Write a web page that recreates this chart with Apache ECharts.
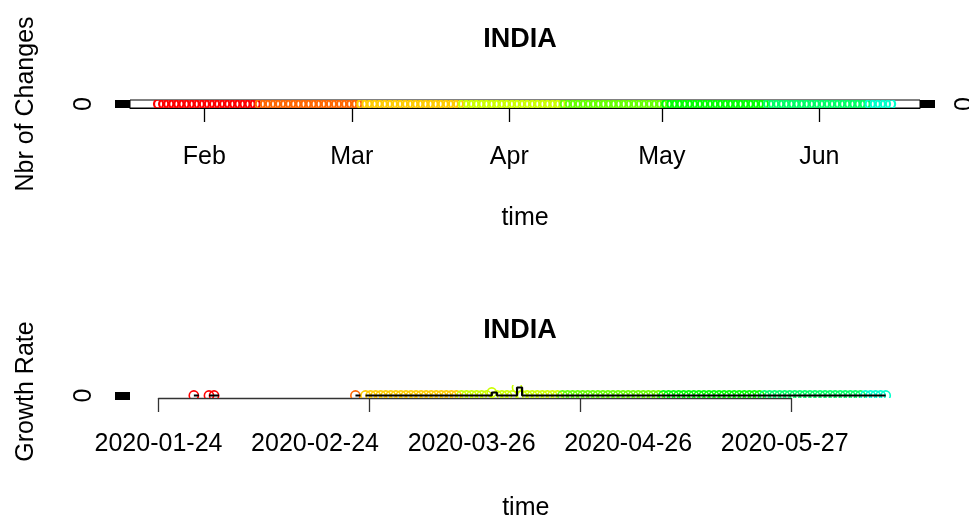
<!DOCTYPE html>
<html>
<head>
<meta charset="utf-8">
<title>INDIA</title>
<script src="https://cdn.jsdelivr.net/npm/echarts@6/dist/echarts.min.js"></script>
<style>
html, body { margin: 0; padding: 0; background: #fff; }
#chart { width: 969px; height: 516px; }
</style>
</head>
<body>
<div id="chart"></div>
<script>
// x values are days counted from the first observation (2020-01-23)
var monthTickDays = [9, 38, 69, 99, 130];
var monthLabels = ['Feb', 'Mar', 'Apr', 'May', 'Jun'];
var dateTickDays = [0, 31, 62, 93, 124];
var dateLabels = ['2020-01-24', '2020-02-24', '2020-03-26', '2020-04-26', '2020-05-27'];
var growthAxisSteps = [0, 1, 2, 3];
var zeroTick = [0];
var rainbowCols = ['#FF0000', '#FF6600', '#FFCC00', '#CCFF00', '#66FF00', '#00FF00', '#00FF66', '#00FFCC'];

// one value per day, 2020-01-23 .. 2020-06-15
var nbrChanges = [
  0, 0, 0, 0, 0, 0, 0, 0, 0, 0, 0, 0, 0, 0, 0, 0, 0, 0, 0, 0, 0, 0, 0, 0, 0, 0, 0, 0, 0,
  0, 0, 0, 0, 0, 0, 0, 0, 0, 0, 0, 0, 0, 0, 0, 0, 0, 0, 0, 0, 0, 0, 0, 0, 0, 0, 0, 0, 0,
  0, 0, 0, 0, 0, 0, 0, 0, 0, 0, 0, 0, 0, 0, 0, 0, 0, 0, 0, 0, 0, 0, 0, 0, 0, 0, 0, 0, 0,
  0, 0, 0, 0, 0, 0, 0, 0, 0, 0, 0, 0, 0, 0, 0, 0, 0, 0, 0, 0, 0, 0, 0, 0, 0, 0, 0, 0, 0,
  0, 0, 0, 0, 0, 0, 0, 0, 0, 0, 0, 0, 0, 0, 0, 0, 0, 0, 0, 0, 0, 0, 0, 0, 0, 0, 0, 0, 0
];
var growthRate = [
  null, null, null, null, null, null, null, 0, null, null, 0, 0,
  null, null, null, null, null, null, null, null, null, null, null, null, null, null,
  null, null, null, null, null, null, null, null, null, null, null, null, null,
  0, null,
  0, 0, 0, 0, 0, 0, 0, 0, 0, 0, 0, 0, 0, 0, 0, 0, 0, 0, 0, 0, 0, 0, 0, 0, 0,
  0.3, 0, 0, 0, 0, 0.8,
  0, 0, 0, 0, 0, 0, 0, 0, 0, 0, 0, 0, 0, 0, 0, 0, 0, 0, 0, 0, 0, 0, 0, 0, 0,
  0, 0, 0, 0, 0, 0, 0, 0, 0, 0, 0, 0, 0, 0, 0, 0, 0, 0, 0, 0, 0, 0, 0, 0, 0,
  0, 0, 0, 0, 0, 0, 0, 0, 0, 0, 0, 0, 0, 0, 0, 0, 0, 0, 0, 0, 0, 0, 0
];

var FONT = 'Liberation Sans';
var txt = { color: '#000', fontSize: 25, fontFamily: FONT };

var changesPts = [];
for (var i = 0; i < nbrChanges.length; i++) changesPts.push([i, nbrChanges[i]]);
var growthPts = [], growthLine = [];
for (var j = 0; j < growthRate.length; j++) {
  growthLine.push([j, growthRate[j] === null ? '-' : growthRate[j]]);
  if (growthRate[j] !== null) growthPts.push([j, growthRate[j]]);
}

function circles(width) {
  return function (params, api) {
    var day = api.value(0);
    var p = api.coord([day, api.value(1)]);
    return {
      type: 'circle',
      shape: { cx: p[0], cy: p[1], r: 4.6 },
      style: { fill: 'none', stroke: rainbowCols[Math.floor(day / 20)], lineWidth: width }
    };
  };
}

function zeroAxis(grid, pos, name, offset) {
  return {
    type: 'value', gridIndex: grid, position: pos, offset: offset || 0,
    min: grid === 0 ? -1 : -0.25, max: grid === 0 ? 1 : 1.05,
    axisLine: { show: false, onZero: false }, splitLine: { show: false },
    axisTick: { show: true, customValues: zeroTick, length: 15, lineStyle: { color: '#000', width: 8 } },
    axisLabel: { show: true, customValues: zeroTick, rotate: 90, margin: 33, color: '#000', fontSize: 25, fontFamily: FONT },
    name: name, nameLocation: 'middle', nameRotate: 90, nameGap: 91, nameTextStyle: txt
  };
}

var chart = echarts.init(document.getElementById('chart'), null, { renderer: 'canvas' });
var option = {
  animation: false,
  backgroundColor: '#fff',
  title: [
    { text: 'INDIA', left: 520, top: 26, textAlign: 'center', padding: 0,
      textStyle: { color: '#000', fontSize: 27, fontWeight: 'bold', fontFamily: FONT } },
    { text: 'INDIA', left: 520, top: 317, textAlign: 'center', padding: 0,
      textStyle: { color: '#000', fontSize: 27, fontWeight: 'bold', fontFamily: FONT } }
  ],
  grid: [
    { left: 130, top: 100, width: 790, height: 8, show: true, borderColor: '#000', borderWidth: 1,
      backgroundColor: '#fff', outerBoundsMode: 'none', containLabel: false },
    { left: 158.5, top: 385, width: 734.5, height: 13, outerBoundsMode: 'none', containLabel: false },
    { left: 158.5, top: 385, width: 632.5, height: 13, outerBoundsMode: 'none', containLabel: false }
  ],
  xAxis: [
    { type: 'value', gridIndex: 0, position: 'bottom', min: -5.63, max: 149.8,
      splitLine: { show: false },
      axisLine: { show: true, onZero: false, lineStyle: { color: '#000', width: 1 } },
      axisTick: { show: true, customValues: monthTickDays, length: 14, lineStyle: { color: '#000', width: 1.3 } },
      axisLabel: { show: true, customValues: monthTickDays, margin: 37, color: '#000', fontSize: 25, fontFamily: FONT,
        formatter: function (v) { return monthLabels[monthTickDays.indexOf(v)] || ''; } },
      name: 'time', nameLocation: 'middle', nameGap: 98, nameTextStyle: txt },
    { type: 'value', gridIndex: 1, position: 'bottom', min: 0, max: 145.45,
      splitLine: { show: false }, axisLine: { show: false, onZero: false }, axisTick: { show: false },
      axisLabel: { show: true, customValues: dateTickDays, margin: 34, color: '#000', fontSize: 25, fontFamily: FONT,
        formatter: function (v) { return dateLabels[dateTickDays.indexOf(v)] || ''; } },
      name: 'time', nameLocation: 'middle', nameGap: 98, nameTextStyle: txt },
    { type: 'value', gridIndex: 2, position: 'bottom', min: 0, max: 3, interval: 1,
      splitLine: { show: false },
      axisLine: { show: true, onZero: false, lineStyle: { color: '#333', width: 1.3 } },
      axisTick: { show: true, customValues: growthAxisSteps, length: 14, lineStyle: { color: '#333', width: 1.3 } },
      axisLabel: { show: false } }
  ],
  yAxis: [
    zeroAxis(0, 'left', 'Nbr of Changes'),
    (function () { var a = zeroAxis(0, 'right', ''); a.name = ''; return a; })(),
    zeroAxis(1, 'left', 'Growth Rate', 28.5),
    { type: 'value', gridIndex: 2, show: false, min: 0, max: 1, axisLine: { onZero: false } }
  ],
  series: [
    { type: 'custom', xAxisIndex: 0, yAxisIndex: 0, clip: true, z: 3,
      renderItem: circles(2.2), encode: { x: 0, y: 1 }, data: changesPts },
    { type: 'custom', xAxisIndex: 1, yAxisIndex: 2, clip: true, z: 3,
      renderItem: circles(1.6), encode: { x: 0, y: 1 }, data: growthPts },
    { type: 'line', xAxisIndex: 1, yAxisIndex: 2, step: 'end', showSymbol: false, symbol: 'none',
      connectNulls: false, clip: false, z: 4,
      lineStyle: { color: '#000', width: 2.2 }, data: growthLine }
  ]
};
chart.setOption(option);
</script>
</body>
</html>
